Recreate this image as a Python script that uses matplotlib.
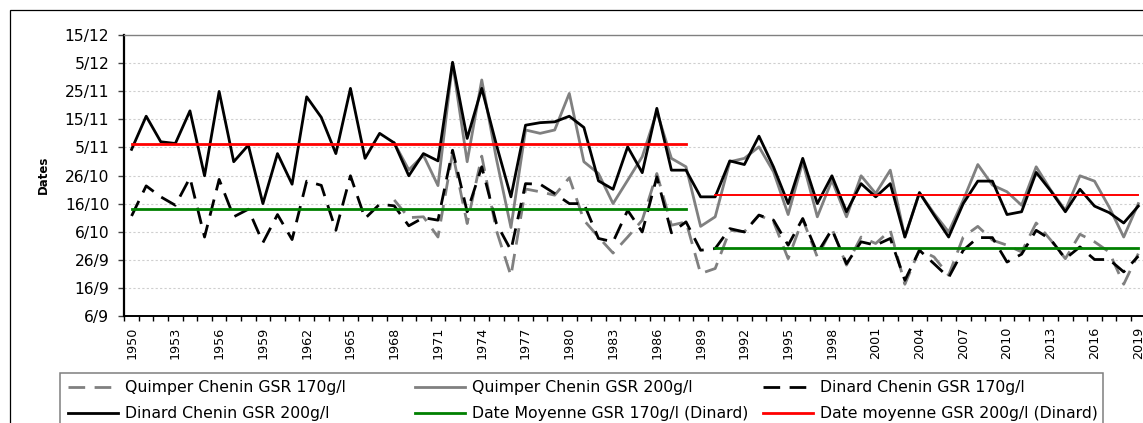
import numpy as np
import matplotlib
matplotlib.use("Agg")
import matplotlib.pyplot as plt
from matplotlib.lines import Line2D
from matplotlib.patches import Rectangle

# valeurs en jours après le 6 septembre (6/9 = 0, 15/12 = 100)
years_dinard = np.arange(1950, 2020)
years_quimper = np.arange(1968, 2020)

dinard_200 = [59.3, 71.1, 62.0, 61.4, 73.0, 49.9, 79.9, 54.9, 60.8, 40.0,
              57.8, 46.9, 78.0, 70.7, 57.8, 81.0, 56.1, 65.0, 61.6, 49.9,
              57.8, 55.2, 90.3, 63.2, 81.0, 61.0, 42.4, 67.9, 68.8, 69.1,
              71.1, 67.1, 48.1, 45.1, 60.2, 51.0, 73.9, 51.9, 51.9, 42.4,
              42.4, 55.2, 53.9, 64.0, 53.0, 40.0, 56.1, 40.0, 49.9, 37.1,
              47.1, 42.4, 47.1, 28.1, 43.9, 35.9, 28.1, 40.0, 48.0, 48.0,
              36.1, 37.1, 51.1, 44.5, 37.1, 45.1, 39.1, 36.8, 33.1, 39.1]

dinard_170 = [35.6, 46.3, 42.4, 39.4, 49.2, 28.1, 48.6, 35.3, 38.0, 26.1,
              36.1, 27.2, 48.0, 46.5, 30.5, 49.9, 34.7, 39.8, 39.2, 32.1,
              35.0, 34.1, 59.0, 37.1, 53.1, 33.0, 23.4, 47.1, 46.9, 43.6,
              40.0, 40.0, 27.6, 26.4, 37.6, 29.9, 49.5, 29.6, 33.5, 23.4,
              24.0, 31.1, 29.9, 35.9, 34.1, 25.2, 34.7, 22.4, 30.8, 18.6,
              26.4, 25.2, 27.6, 12.7, 23.4, 18.6, 13.7, 23.4, 27.9, 27.9,
              19.2, 22.0, 30.5, 27.2, 20.4, 24.6, 20.1, 20.1, 15.7, 21.3]

quimper_200 = [61.6, 52.0, 57.2, 46.4, 90.0, 54.9, 84.0, 56.0, 31.5, 66.2,
               65.0, 66.2, 79.2, 54.9, 50.7, 40.0, 48.3, 56.7, 72.7, 56.1,
               53.1, 31.9, 35.3, 54.9, 56.1, 60.2, 51.3, 36.1, 54.9, 35.3,
               48.3, 35.3, 49.9, 43.6, 51.9, 28.1, 43.9, 36.5, 29.9, 41.2,
               53.9, 46.6, 44.2, 39.4, 53.1, 44.8, 37.6, 49.9, 48.0, 38.8,
               28.1, 40.0]

quimper_170 = [41.3, 35.0, 35.3, 28.1, 58.0, 32.9, 56.9, 30.5, 14.3, 45.2,
               44.2, 43.0, 49.2, 34.1, 28.1, 22.4, 28.1, 34.1, 50.7, 32.3,
               33.5, 15.1, 16.9, 30.5, 30.0, 35.9, 33.5, 20.4, 34.4, 21.0,
               31.1, 18.1, 28.1, 25.8, 30.5, 11.3, 23.6, 21.0, 14.5, 28.1,
               31.9, 27.0, 25.2, 22.8, 33.1, 27.0, 20.4, 29.1, 26.4, 22.8,
               11.3, 22.2]

# dates moyennes (Dinard) sur deux périodes
periodes = [(1950, 1988), (1990, 2019)]
moyenne_200 = [61.2, 43.0]
moyenne_170 = [38.1, 24.2]

date_labels = ['6/9', '16/9', '26/9', '6/10', '16/10', '26/10',
               '5/11', '15/11', '25/11', '5/12', '15/12']

W, H = 1143, 423
fig = plt.figure(figsize=(W / 100, H / 100), dpi=100)

# cadre extérieur
fig.patches.append(Rectangle((10 / W, -0.5), 2, 1 - 10 / H + 0.5,
                             transform=fig.transFigure, fill=False,
                             ec='black', lw=0.9))

x0, x1 = 124.3, 1145.6
y0, y1 = 35, 316
ax = fig.add_axes([x0 / W, 1 - y1 / H, (x1 - x0) / W, (y1 - y0) / H])

dash = (0, (6.0, 3.4))
ax.plot(years_quimper, quimper_170, color='#808080', lw=2.0, ls=dash)
ax.plot(years_quimper, quimper_200, color='#808080', lw=2.0)
ax.plot(years_dinard, dinard_170, color='black', lw=2.0, ls=dash)
ax.plot(years_dinard, dinard_200, color='black', lw=2.0)

for i, (a, b) in enumerate(periodes):
    ax.plot([a, b], [moyenne_170[i]] * 2, color='#008000', lw=2.0)
    ax.plot([a, b], [moyenne_200[i]] * 2, color='#ff0000',
            lw=2.0 if i == 0 else 1.4)

ax.set_xlim(1949.5, 2019.5)
ax.set_ylim(0, 100)

ax.set_yticks(np.arange(0, 101, 10))
ax.set_yticklabels(date_labels, fontsize=11.2)
ax.tick_params(axis='y', direction='out', length=4.3, width=1.0,
               color='#404040', pad=6.5)

ax.set_xticks(np.arange(1950, 2020, 3))
ax.set_xticklabels([str(y) for y in range(1950, 2020, 3)], rotation=90,
                   fontsize=9.2)
ax.set_xticks(np.arange(1949.5, 2020, 1), minor=True)
ax.tick_params(axis='x', which='major', length=0, pad=8)
ax.tick_params(axis='x', which='minor', direction='out', length=3.6,
               width=1.0, color='black')

for v in range(10, 100, 10):
    ax.axhline(v, color='#cfcfcf', lw=0.8, ls=(0, (2, 2)), zorder=0)

ax.spines['left'].set_linewidth(1.6)
ax.spines['bottom'].set_linewidth(1.4)
ax.spines['top'].set_color('#808080')
ax.spines['top'].set_linewidth(1.0)
ax.spines['right'].set_visible(False)

fig.text(43 / W, 1 - 175 / H, 'Dates', rotation=90, fontsize=8.5,
         fontweight='bold', ha='center', va='center')

# légende (trois colonnes)
fig.patches.append(Rectangle((60 / W, -0.5), (1103 - 60) / W,
                             1 - 373 / H + 0.5, transform=fig.transFigure,
                             fill=False, ec='#7f7f7f', lw=1.1))

h_q170 = Line2D([], [], color='#808080', lw=2.0, ls=dash)
h_q200 = Line2D([], [], color='#808080', lw=2.0)
h_d170 = Line2D([], [], color='black', lw=2.0, ls=dash)
h_d200 = Line2D([], [], color='black', lw=2.0)
h_m170 = Line2D([], [], color='#008000', lw=2.0)
h_m200 = Line2D([], [], color='#ff0000', lw=2.0)

colonnes = [
    ([h_q170, h_d200], ['Quimper Chenin GSR 170g/l', 'Dinard Chenin GSR 200g/l']),
    ([h_q200, h_m170], ['Quimper Chenin GSR 200g/l', 'Date Moyenne GSR 170g/l (Dinard)']),
    ([h_d170, h_m200], ['Dinard Chenin GSR 170g/l', 'Date moyenne GSR 200g/l (Dinard)']),
]
col_x = [68, 415, 763]
fs = 11.3
fs_px = fs * 100 / 72
for (hs, labs), cx in zip(colonnes, col_x):
    fig.legend(hs, labs, loc='upper left',
               bbox_to_anchor=(cx / W, 1 - 380 / H),
               frameon=False, borderpad=0, borderaxespad=0,
               handlelength=50 / fs_px, handletextpad=7 / fs_px,
               labelspacing=0.72, fontsize=fs)

fig.savefig('out.png', dpi=100)
